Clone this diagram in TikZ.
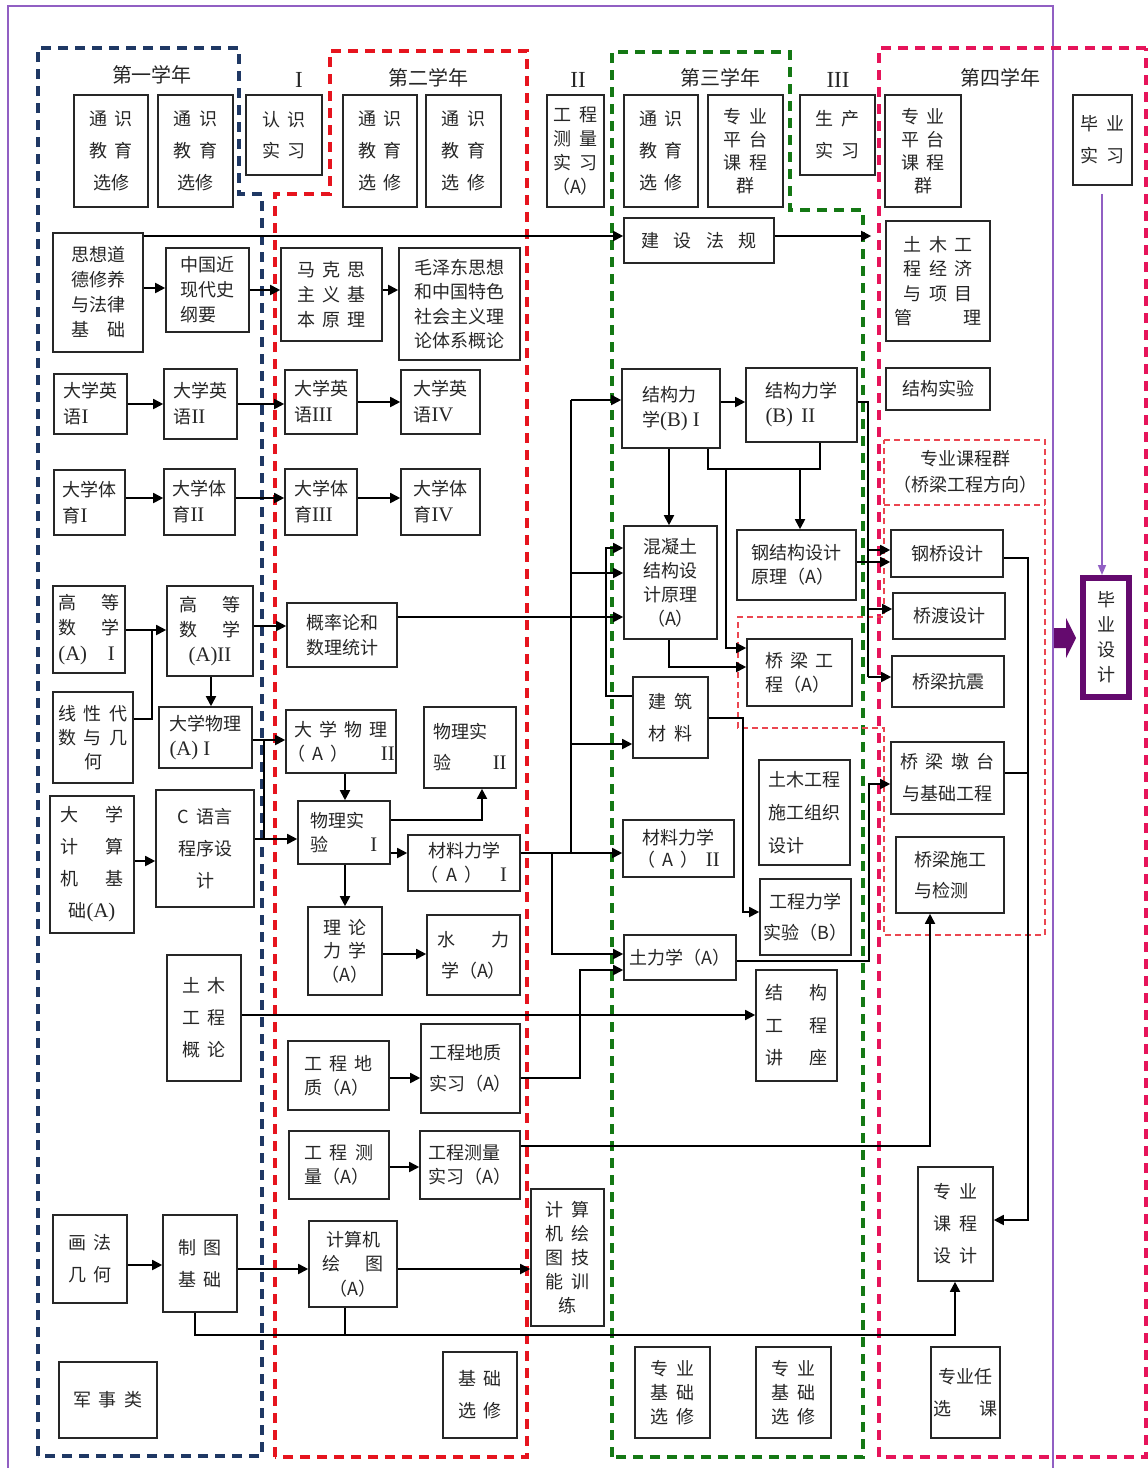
\documentclass[tikz,border=0pt]{standalone}
\usepackage{fontspec}
\setmainfont{Noto Sans CJK SC}
\newfontfamily\lat[Scale=1.15]{Liberation Serif}
\usetikzlibrary{arrows.meta}
\definecolor{navy}{RGB}{31,56,100}
\definecolor{yred}{RGB}{230,20,30}
\definecolor{ygreen}{RGB}{20,120,20}
\definecolor{ypink}{RGB}{230,20,90}
\definecolor{thinred}{RGB}{235,70,80}
\definecolor{pline}{RGB}{145,95,195}
\definecolor{dpurple}{RGB}{100,10,110}
\newcommand\gp{\hspace{0.4em}}
\newcommand\bx[7][]{\node[box,minimum width={(#5-#3)*0.5pt},minimum height={(#6-#4)*0.5pt},#1] (#2) at ({(#3+#5)/2},{(#4+#6)/2}) {#7};}
\tikzset{
  box/.style={draw=black!85,line width=0.8pt,fill=white,align=center,inner sep=0pt,text=black!85,font=\fontsize{9}{12.5}\selectfont},
  ls/.style={font=\fontsize{9}{#1}\selectfont},
  lbl/.style={inner sep=0pt,text=black!85,font=\fontsize{10}{12}\selectfont},
  yeardash/.style={line width=1.7pt,dash pattern=on 5pt off 3.5pt},
  thindash/.style={line width=0.7pt,thinred,dash pattern=on 3pt off 2pt},
  arr/.style={-{Triangle[length=5pt,width=5pt]},line width=0.9pt,black},
  conn/.style={line width=0.9pt,black},
  parr/.style={-{Triangle[length=5pt,width=4pt]},line width=0.8pt,pline}
}
\begin{document}
\begin{tikzpicture}[x=0.5pt,y=-0.5pt]
\useasboundingbox (0,0) rectangle (1147,1468);
% outer purple frame
\draw[pline,line width=0.7pt] (8,1468) -- (8,6) -- (1053,6) -- (1053,1468);
% year frames
\draw[yeardash,navy] (38,1456) -- (38,48) -- (239,48) -- (239,194) -- (262,194) -- (262,1456) -- cycle;
\draw[yeardash,yred] (275,1457) -- (275,194) -- (330,194) -- (330,51) -- (527,51) -- (527,1457) -- cycle;
\draw[yeardash,ygreen] (612,1457) -- (612,52) -- (790,52) -- (790,210) -- (863,210) -- (863,1457) -- cycle;
\draw[yeardash,ypink] (1146,48) -- (879,48) -- (879,1457) -- (1146,1457) -- cycle;
% thin dashed group (bridge direction)
\draw[thindash] (884,440) -- (1045,440) -- (1045,935) -- (884,935) -- (884,728) -- (738,728) -- (738,617) -- (884,617) -- cycle;
\draw[thindash] (884,505) -- (1045,505);
% year labels
\node[lbl] (ya) at (152,75) {第一学年};
\node[lbl] (ra) at (299,80) {\lat I};
\node[lbl] (yb) at (428,78) {第二学年};
\node[lbl] (rb) at (578,80) {\lat II};
\node[lbl] (yc) at (720,78) {第三学年};
\node[lbl] (rc) at (838,80) {\lat III};
\node[lbl] (yd) at (1000,78) {第四学年};
\node[lbl,font=\fontsize{9}{13}\selectfont,align=center] (kcq) at (965,472) {专业课程群\\（桥梁工程方向）};
% top row
\bx[ls=16]{ts1}{74}{95}{148}{207}{通\gp{}识\\教\gp{}育\\选修}
\bx[ls=16]{ts2}{158}{95}{233}{207}{通\gp{}识\\教\gp{}育\\选修}
\bx[ls=15.5]{rs}{246}{95}{322}{175}{认\gp{}识\\实\gp{}习}
\bx[ls=16]{ts3}{343}{95}{417}{207}{通\gp{}识\\教\gp{}育\\选\gp{}修}
\bx[ls=16]{ts4}{426}{95}{501}{207}{通\gp{}识\\教\gp{}育\\选\gp{}修}
\bx[ls=12]{gcsx}{547}{95}{604}{207}{工\gp{}程\\测\gp{}量\\实\gp{}习\\（A）}
\bx[ls=16]{ts5}{624}{95}{698}{207}{通\gp{}识\\教\gp{}育\\选\gp{}修}
\bx[ls=11.5]{zy3}{708}{95}{783}{207}{专\gp{}业\\平\gp{}台\\课\gp{}程\\群}
\bx[ls=16]{sc}{800}{95}{875}{175}{生\gp{}产\\实\gp{}习}
\bx[ls=11.5]{zy4}{885}{95}{961}{207}{专\gp{}业\\平\gp{}台\\课\gp{}程\\群}
\bx[ls=16]{bysx}{1073}{95}{1132}{185}{毕\gp{}业\\实\gp{}习}
% politics row
\bx[ls=12.5]{sx}{53}{233}{143}{352}{思想道\\德修养\\与法律\\基\hspace{1em}础}
\bx[ls=12.5,align=left]{zg}{166}{248}{249}{332}{中国近\\现代史\\纲要}
\bx[ls=12.5]{mk}{281}{248}{382}{341}{马\gp{}克\gp{}思\\主\gp{}义\gp{}基\\本\gp{}原\gp{}理}
\bx[ls=12.2]{mz}{399}{248}{520}{360}{毛泽东思想\\和中国特色\\社会主义理\\论体系概论}
\bx{jsfg}{624}{218}{774}{263}{建\hspace{0.8em}设\hspace{0.8em}法\hspace{0.8em}规}
\bx[ls=12.2]{tumu}{886}{221}{990}{341}{土\gp{}木\gp{}工\\程\gp{}经\gp{}济\\与\gp{}项\gp{}目\\管\hspace{2.8em}理}
% English
\bx[ls=13,align=left]{e1}{54}{374}{127}{434}{大学英\\语{\lat I}}
\bx[ls=13,align=left]{e2}{164}{369}{237}{439}{大学英\\语{\lat II}}
\bx[ls=13,align=left]{e3}{285}{370}{357}{434}{大学英\\语{\lat III}}
\bx[ls=13,align=left]{e4}{401}{370}{480}{434}{大学英\\语{\lat IV}}
% PE
\bx[ls=13,align=left]{ty1}{54}{470}{125}{535}{大学体\\育{\lat I}}
\bx[ls=13,align=left]{ty2}{164}{469}{235}{535}{大学体\\育{\lat II}}
\bx[ls=13,align=left]{ty3}{285}{469}{357}{535}{大学体\\育{\lat III}}
\bx[ls=13,align=left]{ty4}{401}{469}{480}{535}{大学体\\育{\lat IV}}
% maths and physics
\bx[ls=12.7,align=left]{m1}{53}{586}{125}{673}{高\hspace{1.4em}等\\数\hspace{1.4em}学\\{\lat (A)\hspace{1em}I}}
\bx[ls=12.7]{m2}{167}{586}{253}{676}{高\hspace{1.4em}等\\数\hspace{1.4em}学\\{\lat (A)II}}
\bx[ls=12]{la}{53}{692}{133}{783}{线\gp{}性\gp{}代\\数\gp{}与\gp{}几\\何}
\bx[ls=12.5]{gl}{287}{603}{397}{667}{概率论和\\数理统计}
\bx[ls=12.5,align=left]{p1}{159}{707}{252}{768}{大学物理\\{\lat (A) I}}
\bx[ls=12]{p2}{286}{710}{396}{773}{大\gp{}学\gp{}物\gp{}理\\（\gp{}A\gp{}）\hspace{1.8em}{\lat II}}
\bx[ls=15.5,align=left]{sy2}{424}{707}{516}{788}{物理实\\验\hspace{2.3em}{\lat II}}
\bx[ls=12,align=left]{sy1}{298}{801}{390}{864}{物理实\\验\hspace{2.3em}{\lat I}}
\bx[ls=12]{cl1}{408}{835}{520}{891}{材料力学\\（\gp{}A\gp{}）\hspace{1em}{\lat I}}
\bx[ls=11.8]{ll}{308}{907}{382}{995}{理\gp{}论\\力\gp{}学\\（A）}
\bx[ls=15.5]{sl}{427}{915}{520}{995}{水\hspace{2em}力\\学（A）}
\bx[ls=16]{jsj}{50}{796}{134}{933}{大\hspace{1.5em}学\\计\hspace{1.5em}算\\机\hspace{1.5em}基\\础{\lat (A)}}
\bx[ls=16]{cy}{156}{790}{254}{907}{C\gp{}语言\\程序设\\计}
\bx[ls=16]{tmgl}{167}{955}{241}{1081}{土\gp{}木\\工\gp{}程\\概\gp{}论}
\bx[ls=12,align=left]{gd}{288}{1041}{389}{1110}{工\gp{}程\gp{}地\\质（A）}
\bx[ls=15.5,align=left]{gdsx}{421}{1024}{520}{1113}{工程地质\\实习（A）}
\bx[ls=12,align=left]{cl}{289}{1131}{389}{1199}{工\gp{}程\gp{}测\\量（A）}
\bx[ls=12,align=left]{clsx}{420}{1131}{520}{1199}{工程测量\\实习（A）}
\bx[ls=16]{hf}{53}{1215}{127}{1303}{画\gp{}法\\几\gp{}何}
\bx[ls=16]{zt}{163}{1215}{237}{1312}{制\gp{}图\\基\gp{}础}
\bx[ls=12.2]{jsjht}{309}{1221}{397}{1307}{计算机\\绘\hspace{1.4em}图\\（A）}
\bx[ls=12]{jn}{531}{1189}{604}{1326}{计\gp{}算\\机\gp{}绘\\图\gp{}技\\能\gp{}训\\练}
\bx{js}{59}{1362}{157}{1438}{军\gp{}事\gp{}类}
\bx[ls=16]{jcxx}{443}{1352}{517}{1438}{基\gp{}础\\选\gp{}修}
\bx[ls=12]{zj1}{635}{1347}{710}{1438}{专\gp{}业\\基\gp{}础\\选\gp{}修}
\bx[ls=12]{zj2}{756}{1347}{831}{1438}{专\gp{}业\\基\gp{}础\\选\gp{}修}
\bx[ls=16]{zyrx}{931}{1347}{1000}{1438}{专业任\\选\hspace{1.6em}课}
\bx[ls=16]{zykc}{918}{1167}{993}{1281}{专\gp{}业\\课\gp{}程\\设\gp{}计}
% year 3
\bx[ls=12.5,align=left]{jg1}{622}{369}{720}{448}{结构力\\学{\lat (B) I}}
\bx[ls=12.5,align=left]{jg2}{746}{368}{857}{442}{结构力学\\{\lat (B)\gp{}II}}
\bx[ls=12]{hnt}{624}{526}{717}{639}{混凝土\\结构设\\计原理\\（A）}
\bx[ls=12,align=left]{gjg}{737}{530}{856}{600}{钢结构设计\\原理（A）}
\bx[ls=12,align=left]{qlgc}{747}{639}{852}{706}{桥\gp{}梁\gp{}工\\程（A）}
\bx[ls=16]{jzcl}{633}{677}{708}{758}{建\gp{}筑\\材\gp{}料}
\bx[ls=16.5,align=left]{sgzz}{759}{760}{850}{865}{土木工程\\施工组织\\设计}
\bx[ls=15.5]{gclx}{760}{879}{851}{955}{工程力学\\实验（B）}
\bx[ls=11]{cl2}{623}{820}{734}{877}{材料力学\\（\gp{}A\gp{}）\gp{}{\lat II}}
\bx{tl}{624}{935}{736}{980}{土力学（A）}
\bx[ls=16.2]{jgjz}{756}{970}{837}{1081}{结\hspace{1.4em}构\\工\hspace{1.4em}程\\讲\hspace{1.4em}座}
% year 4
\bx{jgsy}{886}{368}{990}{410}{结构实验}
\bx{gq}{891}{530}{1003}{577}{钢桥设计}
\bx{qd}{893}{593}{1005}{639}{桥渡设计}
\bx{kz}{892}{656}{1004}{707}{桥梁抗震}
\bx[ls=16]{qldt}{891}{742}{1004}{814}{桥\gp{}梁\gp{}墩\gp{}台\\与基础工程}
\bx[ls=15.5,align=left]{qlsg}{896}{837}{1004}{913}{桥梁施工\\与检测}
\bx[ls=12.5,draw=dpurple,line width=3pt]{bysj}{1083}{578}{1129}{697}{毕\\业\\设\\计}
% big purple arrow
\fill[dpurple] (1054,628) -- (1066,628) -- (1066,618) -- (1076,638) -- (1066,658) -- (1066,648) -- (1054,648) -- cycle;
% level coordinates
\foreach \y in {236,288,290,400,402,404,469,498,548,550,558,562,573,609,617,626,630,648,667,677,696,718,719,740,744,773,784,820,839,853,861,912,954,961,970,1015,1078,1146,1167,1220,1265,1269,1335}
  \coordinate (h\y) at (0,\y);
\foreach \x in {152,195,211,264,345,482,552,571,580,606,669,708,726,743,800,820,868,869,930,955,1028,1102}
  \coordinate (v\x) at (\x,0);
% connectors
\draw[arr] (sx.east |- h236) -- (jsfg.west |- h236);
\draw[arr,shorten >=7pt] (jsfg.east |- h236) -- (tumu.west |- h236);
\draw[arr] (sx.east |- h288) -- (zg.west |- h288);
\draw[arr] (zg.east |- h290) -- (mk.west |- h290);
\draw[arr] (mk.east |- h290) -- (mz.west |- h290);
\draw[arr] (e1.east |- h404) -- (e2.west |- h404);
\draw[arr] (e2.east |- h404) -- (e3.west |- h404);
\draw[arr] (e3.east |- h402) -- (e4.west |- h402);
\draw[arr] (ty1.east |- h498) -- (ty2.west |- h498);
\draw[arr] (ty2.east |- h498) -- (ty3.west |- h498);
\draw[arr] (ty3.east |- h498) -- (ty4.west |- h498);
\draw[arr] (m1.east |- h630) -- (m2.west |- h630);
\draw[conn] (la.east |- h719) -| (v152 |- h630);
\draw[arr] (m2.east |- h626) -- (gl.west |- h626);
\draw[arr] (gl.east |- h617) -- (hnt.west |- h617);
\draw[arr] (m2.south -| v211) -- (p1.north -| v211);
\draw[arr] (p1.east |- h740) -- (p2.west |- h740);
\draw[conn] (v264 |- h740) -- (v264 |- h839);
\draw[arr] (cy.east |- h839) -- (sy1.west |- h839);
\draw[arr] (jsj.east |- h861) -- (cy.west |- h861);
\draw[arr] (p2.south -| v345) -- (sy1.north -| v345);
\draw[arr] (sy1.east |- h820) -| (sy2.south -| v482);
\draw[arr] (sy1.east |- h853) -- (cl1.west |- h853);
\draw[arr] (sy1.south -| v345) -- (ll.north -| v345);
\draw[arr] (ll.east |- h954) -- (sl.west |- h954);
\draw[arr] (cl1.east |- h853) -- (cl2.west |- h853);
\draw[conn] (v571 |- h853) -- (v571 |- h400);
\draw[arr] (v571 |- h400) -- (jg1.west |- h400);
\draw[arr] (v571 |- h573) -- (hnt.west |- h573);
\draw[arr] (v571 |- h744) -- (jzcl.west |- h744);
\draw[arr] (v552 |- h853) |- (tl.west |- h954);
\draw[arr] (jzcl.west |- h696) -| (v606 |- h548) -- (hnt.west |- h548);
\draw[arr] (jg1.east |- h402) -- (jg2.west |- h402);
\draw[arr] (jg1.south -| v669) -- (hnt.north -| v669);
\draw[conn] (jg1.south -| v708) |- (v820 |- h469) -- (jg2.south -| v820);
\draw[arr] (v800 |- h469) -- (gjg.north -| v800);
\draw[arr] (v726 |- h469) |- (qlgc.west |- h648);
\draw[arr] (hnt.south -| v669) |- (qlgc.west |- h667);
\draw[arr] (jzcl.east |- h718) -| (v743 |- h912) -- (gclx.west |- h912);
\draw[arr] (tl.east |- h961) -| (v869 |- h784) -- (qldt.west |- h784);
\draw[conn] (jg2.east |- h402) -| (v868 |- h677);
\draw[arr] (v868 |- h550) -- (gq.west |- h550);
\draw[arr] (v868 |- h609) -- (qd.west |- h609);
\draw[arr] (v868 |- h677) -- (kz.west |- h677);
\draw[arr] (gjg.east |- h562) -- (gq.west |- h562);
\draw[arr] (gq.east |- h558) -| (v1028 |- h1220) -- (zykc.east |- h1220);
\draw[conn] (qldt.east |- h773) -- (v1028 |- h773);
\draw[arr] (tmgl.east |- h1015) -- (jgjz.west |- h1015);
\draw[arr] (gdsx.east |- h1078) -| (v580 |- h970) -- (tl.west |- h970);
\draw[arr] (gd.east |- h1078) -- (gdsx.west |- h1078);
\draw[arr] (cl.east |- h1167) -- (clsx.west |- h1167);
\draw[arr] (clsx.east |- h1146) -| (qlsg.south -| v930);
\draw[arr] (hf.east |- h1265) -- (zt.west |- h1265);
\draw[arr] (zt.east |- h1269) -- (jsjht.west |- h1269);
\draw[arr] (jsjht.east |- h1269) -- (jn.west |- h1269);
\draw[arr] (zt.south -| v195) |- (v955 |- h1335) -- (zykc.south -| v955);
\draw[conn] (jsjht.south -| v345) -- (v345 |- h1335);
\draw[parr,shorten <=4pt] (bysx.south -| v1102) -- (bysj.north -| v1102);
\end{tikzpicture}
\end{document}
